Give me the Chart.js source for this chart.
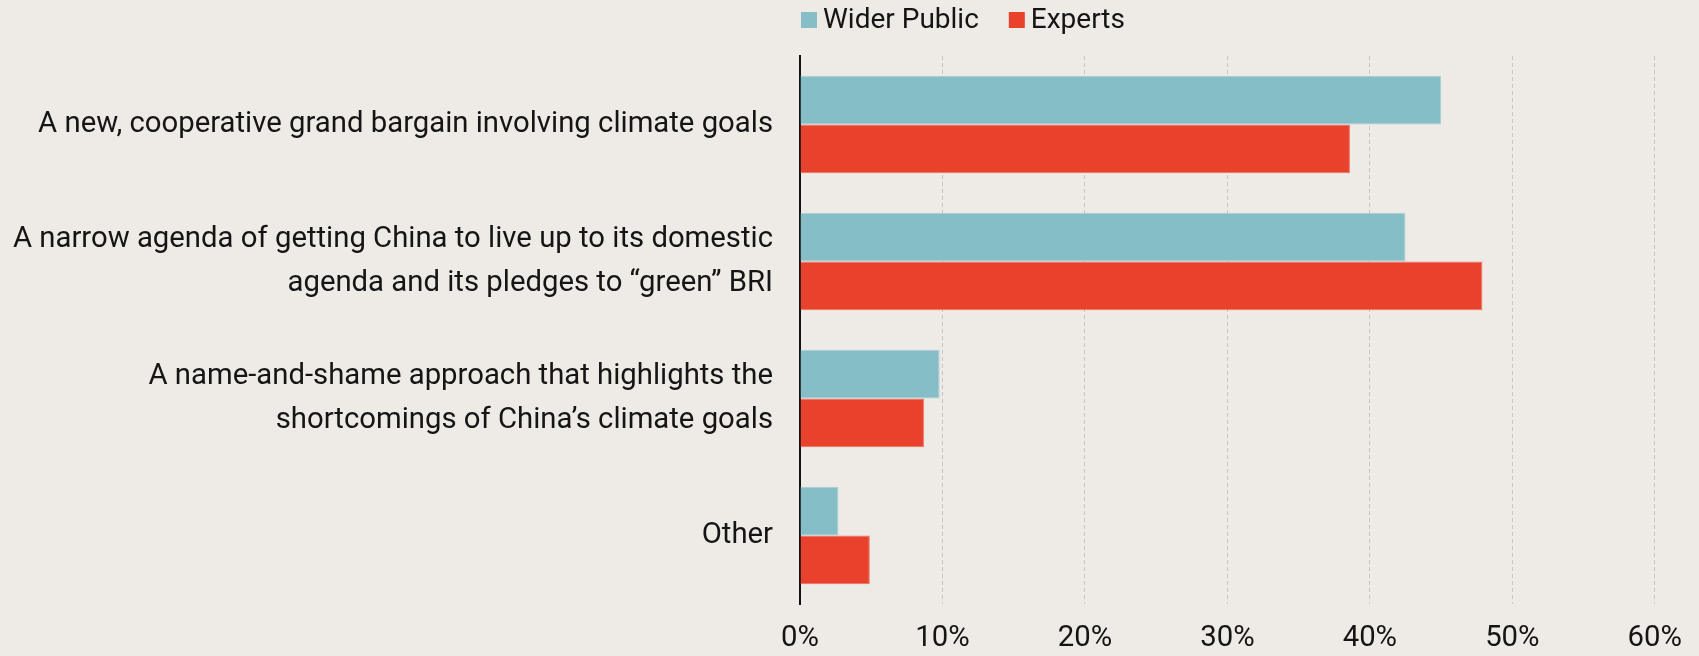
<!DOCTYPE html>
<html>
<head>
<meta charset="utf-8">
<script src="https://cdn.jsdelivr.net/npm/chart.js@4/dist/chart.umd.min.js"></script>
<style>
  html, body { margin: 0; padding: 0; background: #eeeae5; }
  #wrap { position: relative; width: 1699px; height: 656px; }
</style>
</head>
<body>
<div id="wrap"><canvas id="myChart"></canvas></div>
<script>
/* datos */
const categories = [
  'A new, cooperative grand bargain involving climate goals',
  ['A narrow agenda of getting China to live up to its domestic', 'agenda and its pledges to \u201cgreen\u201d BRI'],
  ['A name-and-shame approach that highlights the', 'shortcomings of China\u2019s climate goals'],
  'Other'
];
const widerPublic = [45.0, 42.5, 9.8, 2.7];
const experts = [38.6, 47.9, 8.7, 4.9];
const xTicks = [0, 10, 20, 30, 40, 50, 60];

const FONT = 'Roboto, "Liberation Sans", sans-serif';
const INK = '#151515';

/* leyenda propia, arriba a la izquierda del eje */
const topLegend = {
  id: 'topLegend',
  afterDraw(chart) {
    const ctx = chart.ctx;
    let x = chart.chartArea.left + 1;
    const y = 20;
    ctx.save();
    ctx.font = '28px ' + FONT;
    ctx.textBaseline = 'middle';
    chart.data.datasets.forEach(ds => {
      ctx.fillStyle = ds.backgroundColor;
      ctx.fillRect(x, y - 8, 16, 16);
      x += 22;
      ctx.fillStyle = INK;
      ctx.fillText(ds.label, x, y + 1);
      x += ctx.measureText(ds.label).width + 30;
    });
    ctx.restore();
  }
};

const ctx = document.getElementById('myChart');

const data = {
  labels: categories,
  datasets: [
    {
      label: 'Wider Public',
      data: widerPublic,
      backgroundColor: '#85bec6',
      borderColor: '#a9d0d6',
      borderWidth: 1,
      borderSkipped: 'left'
    },
    {
      label: 'Experts',
      data: experts,
      backgroundColor: '#e8412c',
      borderColor: '#ee7060',
      borderWidth: 1,
      borderSkipped: 'left'
    }
  ]
};

const config = {
  type: 'bar',
  data: data,
  plugins: [topLegend],
  options: {
    indexAxis: 'y',
    responsive: true,
    maintainAspectRatio: false,
    animation: false,
    categoryPercentage: 0.712,
    barPercentage: 1,
    layout: { padding: { top: 56, right: 22, bottom: 2, left: 6 } },
    plugins: {
      legend: { display: false },
      tooltip: { enabled: false }
    },
    scales: {
      x: {
        min: 0,
        max: 60,
        afterBuildTicks: (scale) => { scale.ticks = xTicks.map(v => ({ value: v })); },
        afterFit: (scale) => { scale.height = 50; },
        grid: { color: '#c9c6c2', lineWidth: 1, drawTicks: false },
        border: { display: false, dash: [4, 3] },
        ticks: {
          padding: 17,
          color: INK,
          font: { family: FONT, size: 29.3 },
          callback: (v) => v + '%'
        }
      },
      y: {
        afterFit: (scale) => { scale.width = 794; },
        grid: { display: false, drawTicks: false },
        border: { display: true, color: '#111', width: 2 },
        ticks: {
          padding: 27,
          color: INK,
          font: { family: FONT, size: 29.3, lineHeight: 1.5 }
        }
      }
    }
  }
};

const chart = new Chart(ctx, config);
</script>
</body>
</html>
